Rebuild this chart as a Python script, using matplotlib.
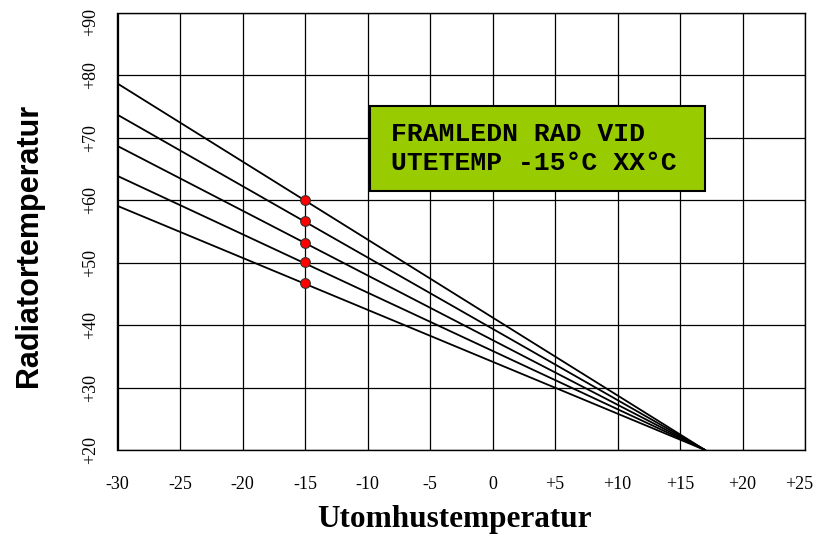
import matplotlib
matplotlib.use("Agg")
import matplotlib.pyplot as plt
import matplotlib.transforms as mtransforms
import numpy as np

# Data
x_range = [-30, 17]
curve_starts = [78.7, 73.7, 68.7, 63.9, 59.1]
curve_end = 20
dot_x = -15
dot_y = [60.0, 56.7, 53.2, 50.1, 46.7]
x_ticks = [-30, -25, -20, -15, -10, -5, 0, 5, 10, 15, 20, 25]
x_tick_labels = ["-30", "-25", "-20", "-15", "-10", "-5", "0", "+5", "+10", "+15", "+20", "+25"]
y_ticks = [20, 30, 40, 50, 60, 70, 80, 90]
y_tick_labels = ["+20", "+30", "+40", "+50", "+60", "+70", "+80", "+90"]
box_text = "FRAMLEDN RAD VID\nUTETEMP -15°C XX°C"

fig = plt.figure(figsize=(8.17, 5.43), dpi=100)
ax = fig.add_axes([117.5/817, 1-450/543, (805-117.5)/817, (450-13)/543])
ax.set_xlim(-30, 25)
ax.set_ylim(20, 90)

ax.set_xticks(x_ticks)
ax.set_xticklabels(x_tick_labels, family="Liberation Serif", fontsize=13)
ax.set_yticks(y_ticks)
ax.set_yticklabels(y_tick_labels, family="Liberation Serif", fontsize=13,
                   rotation=90, va="center")
ax.tick_params(length=0)
ax.tick_params(axis="x", pad=19)
ax.tick_params(axis="y", pad=13)
ax.grid(True, color="black", linewidth=0.9)
ax.set_axisbelow(True)
for s in ax.spines.values():
    s.set_color("black")
    s.set_linewidth(1.0)

# shift edge tick labels slightly so they stay inside the figure
last = ax.get_xticklabels()[-1]
last.set_transform(last.get_transform() + mtransforms.ScaledTranslation(-5.5/100, 0, fig.dpi_scale_trans))
top = ax.get_yticklabels()[-1]
top.set_transform(top.get_transform() + mtransforms.ScaledTranslation(0, -9/100, fig.dpi_scale_trans))

for ys in curve_starts:
    ax.plot(x_range, [ys, curve_end], color="black", linewidth=1.3, zorder=3)

ax.plot([dot_x]*len(dot_y), dot_y, linestyle="none", marker="o", markersize=7,
        markerfacecolor="#ff0000", markeredgecolor="#333333", markeredgewidth=0.8, zorder=4)

fig.text(29/817, 1-245/543, "Radiatortemperatur", rotation=90, ha="center", va="center",
         family="Liberation Sans", fontweight="bold", fontsize=22)
fig.text(454/817, 1-520/543, "Utomhustemperatur", ha="center", va="center",
         family="Liberation Serif", fontweight="bold", fontsize=22.5)

# Green text box
bx0, bx1, by0, by1 = 370, 705, 105.7, 190.7
rect = plt.Rectangle((bx0/817, 1-by1/543), (bx1-bx0)/817, (by1-by0)/543,
                     transform=fig.transFigure, facecolor="#99cc00", edgecolor="black",
                     linewidth=1.5, zorder=5)
fig.patches.append(rect)
fig.text(391/817, 1-148.5/543, box_text, ha="left", va="center", family="Liberation Mono",
         fontweight="bold", fontsize=19, linespacing=1.3, zorder=6)

fig.savefig("out.png", dpi=100)
